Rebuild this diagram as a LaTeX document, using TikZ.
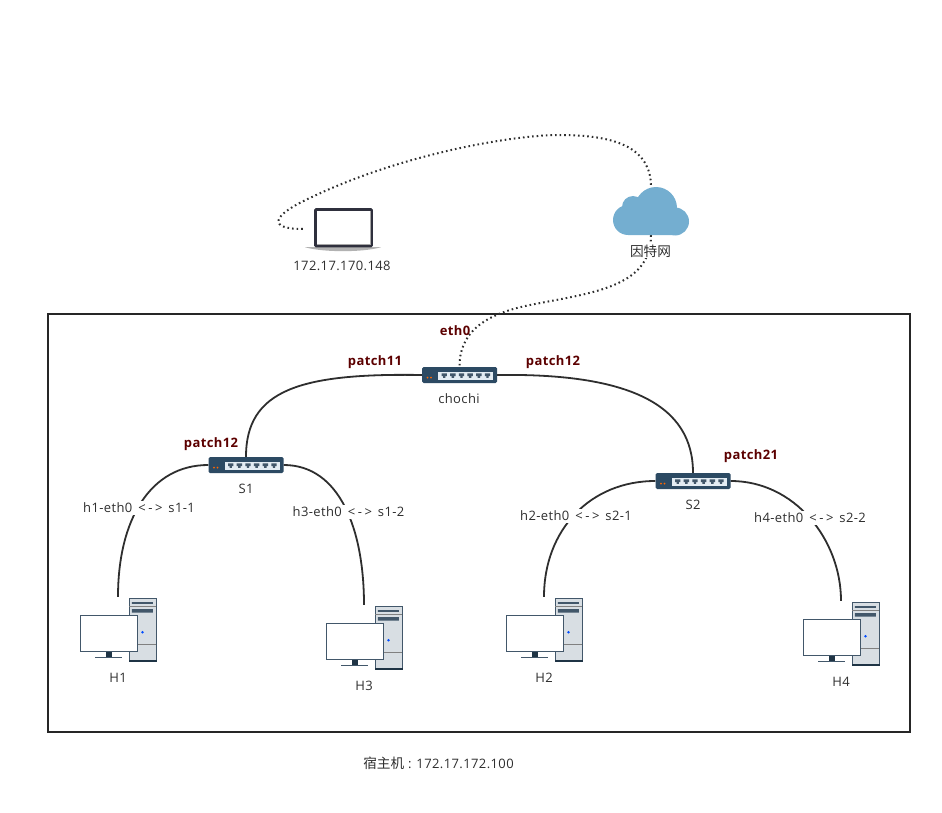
\documentclass[tikz,border=0pt]{standalone}
\usepackage{fontspec}
\setmainfont{Open Sans}[LetterSpace=3]
\newfontfamily\cjk{Noto Sans CJK SC}[Scale=1.05]
\definecolor{ink}{HTML}{2E2E2E}
\definecolor{patchred}{HTML}{5C0000}
\definecolor{cloudblue}{HTML}{74AED0}
\definecolor{navy}{HTML}{2C4A63}
\definecolor{panel}{HTML}{E3ECF3}
\definecolor{towergray}{HTML}{D8DEE3}
\definecolor{slate}{HTML}{42576A}
\definecolor{laptopdark}{HTML}{2F303D}
\def\cloudbody{(5,-3) circle (21) (-18,-4) circle (11) (-23,9) circle (15) (24,10.5) circle (14) (-23,24) rectangle (24,4)}
\def\lra{\kern6pt<\kern2.5pt-\kern2.5pt>\kern6pt}
\tikzset{
  x=1pt, y=-1pt,
  lbl/.style={inner sep=1pt, text=ink, font=\fontsize{13}{15}\selectfont},
  patch/.style={inner sep=0pt, text=patchred, font=\fontsize{13}{15}\selectfont\bfseries},
  linklbl/.style={lbl, fill=white, inner sep=2pt},
  link/.style={ink, line width=1.8pt},
  dots/.style={ink, line width=2pt, dash pattern=on 1.6pt off 3pt},
  switchnode/.style={minimum width=75pt, minimum height=16pt, inner sep=0pt},
  hostnode/.style={minimum width=77pt, minimum height=66pt, inner sep=0pt},
  switchicon/.pic={
    \fill[navy, rounded corners=1.5pt] (-37.5,-8) rectangle (37.5,8);
    \fill[panel] (-21.5,-3) rectangle (33.5,5);
    \fill[orange!80!red] (-32,2.6) circle (1) (-28.5,2.6) circle (1);
    \foreach \i in {0,...,5}
      \fill[slate] (-18+8.65*\i,-1.6) rectangle +(5.4,2.6) (-16.5+8.65*\i,1) rectangle +(2.4,1.8);
  },
  hosticon/.pic={
    \draw[slate, fill=towergray, line width=1pt] (11,-31.2) rectangle (38,31.8);
    \fill[navy!70!black] (10.5,29.6) rectangle (38.5,32.4);
    \draw[gray, line width=.8pt] (11,-24) -- (38,-24) (11,14.3) -- (38,14.3);
    \fill[slate] (13.8,-28) rectangle (34.8,-26.2) (13.8,-21) rectangle (34.8,-17.3);
    \fill[blue!70!cyan] (24.5,2.3) circle (1.4);
    \fill[navy!70!black] (-12.5,21) rectangle (-6.2,27);
    \fill[slate] (-23.5,26.5) rectangle (4.2,27.9);
    \draw[slate, fill=white, line width=1pt] (-38,-14.8) rectangle (19,21.2);
  },
  laptopicon/.pic={
    \fill[gray!60] (-38,18.2) .. controls (-20,23.5) and (20,23.5) .. (38,18.2) -- cycle;
    \fill[laptopdark, rounded corners=1.5pt] (-28.8,-20.8) rectangle (29.8,18.4);
    \fill[gray!70] (-26.5,-18.3) rectangle (27.5,16);
    \fill[white] (-26,-17.8) rectangle (27,15);
  },
}
\begin{document}
\begin{tikzpicture}
  \useasboundingbox (0,0) rectangle (942,813);
  \draw[black!85, line width=1.1pt] (48,314) rectangle (910,732);

  % devices
  \node[minimum width=76pt, minimum height=48pt, inner sep=0pt] (cloud) at (651,211) {};
  \node[minimum width=80pt, minimum height=43pt, inner sep=0pt] (laptop) at (343,229) {};
  \node[switchnode] (chochi) at (459.5,375) {};
  \node[switchnode] (S1) at (246,465) {};
  \node[switchnode] (S2) at (693,481) {};
  \node[hostnode] (H1) at (118,630) {};
  \node[hostnode] (H3) at (364,638) {};
  \node[hostnode] (H2) at (544,630) {};
  \node[hostnode] (H4) at (841,634) {};

  % links
  \draw[link] (chochi.west) .. controls (300,373) and (246,390) .. (S1.north);
  \draw[link] (chochi.east) .. controls (630,373) and (693,405) .. (S2.north);
  \draw[link] (S1.west) .. controls (150,465) and (118,520) .. (H1.north);
  \draw[link] (S1.east) .. controls (340,465) and (364,530) .. (H3.north);
  \draw[link] (S2.west) .. controls (590,481) and (544,530) .. (H2.north);
  \draw[link] (S2.east) .. controls (795,481) and (841,540) .. (H4.north);
  \draw[dots] (laptop.west) .. controls (268,229) and (270,216) .. (312,197)
    .. controls (400,155) and (510,135) .. (560,135)
    .. controls (620,135) and (651,150) .. (cloud.north);
  \draw[dots] (cloud.south) .. controls (651,288) and (590,293) .. (530,305)
    .. controls (480,315) and (459.5,335) .. (chochi.north);

  \fill[cloudblue, shift={(651,211)}] \cloudbody;
  \pic at (laptop) {laptopicon};
  \foreach \sw in {chochi,S1,S2}
    \pic at (\sw) {switchicon};
  \foreach \hst in {H1,H2,H3,H4}
    \pic at (\hst) {hosticon};

  % labels
  \node[lbl, fill=white] (cloudlbl) at (650.5,251) {\cjk 因特网};
  \node[lbl] (laptoplbl) at (342,266) {172.17.170.148};
  \node[lbl] (chochilbl) at (459,399) {chochi};
  \node[lbl] (S1lbl) at (246,489) {S1};
  \node[lbl] (S2lbl) at (693,505) {S2};
  \node[lbl] (H1lbl) at (118,678) {H1};
  \node[lbl] (H3lbl) at (364,686) {H3};
  \node[lbl] (H2lbl) at (544,678) {H2};
  \node[lbl] (H4lbl) at (841,682) {H4};
  \node[linklbl] (h1link) at (139,508) {h1-eth0\lra s1-1};
  \node[linklbl] (h3link) at (348.5,512) {h3-eth0\lra s1-2};
  \node[linklbl] (h2link) at (576,516) {h2-eth0\lra s2-1};
  \node[linklbl] (h4link) at (810,518) {h4-eth0\lra s2-2};
  \node[patch] (eth0lbl) at (455,331) {eth0};
  \node[patch] (p11) at (375,362) {patch11};
  \node[patch] (p12) at (553,362) {patch12};
  \node[patch] (s1p12) at (211,444) {patch12};
  \node[patch] (p21) at (751,456) {patch21};
  \node[lbl] (hostlbl) at (438.5,763) {{\cjk 宿主机} : 172.17.172.100};
\end{tikzpicture}
\end{document}
